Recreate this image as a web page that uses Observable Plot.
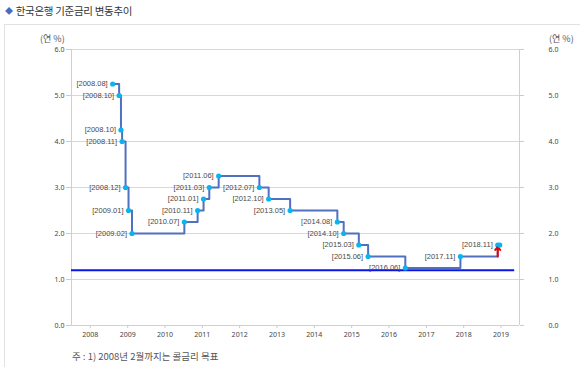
<!DOCTYPE html>
<html>
<head>
<meta charset="utf-8">
<script src="https://cdn.jsdelivr.net/npm/d3@7"></script>
<script src="https://cdn.jsdelivr.net/npm/@observablehq/plot@0.6"></script>
<style>
  body { margin: 0; width: 580px; height: 367px; overflow: hidden; background: #fff; font-family: "Noto Sans CJK KR", "Noto Sans", sans-serif; position: relative; }
  #title { position: absolute; left: 5px; top: 3px; font-size: 10.5px; color: #333; letter-spacing: -0.3px; }
  #title .dia { color: #4a6cc0; font-size: 8px; margin-right: 3px; position: relative; top: -1px; }
  #box { position: absolute; left: 4px; top: 24px; width: 600px; height: 400px; border: 1px solid #e2e2e2; box-sizing: border-box; }
  #chart { position: absolute; left: 0; top: 24px; }
  #caption { position: absolute; left: 72px; top: 349px; font-size: 9.5px; color: #555; }
  .unit { position: absolute; top: 32px; font-size: 9px; color: #555; }
</style>
</head>
<body>
<div id="title"><span class="dia">◆</span>한국은행 기준금리 변동추이</div>
<div id="box"></div>
<div id="chart"></div>
<div class="unit" style="left:40px">(연 %)</div>
<div class="unit" style="left:549px">(연 %)</div>
<div id="caption">주 : 1) 2008년 2월까지는 콜금리 목표</div>
<script>
const dates = ["2008-08-07","2008-10-09","2008-10-27","2008-11-07","2008-12-11","2009-01-09","2009-02-12",
  "2010-07-09","2010-11-16","2011-01-13","2011-03-10","2011-06-10","2012-07-12","2012-10-11","2013-05-09",
  "2014-08-14","2014-10-15","2015-03-12","2015-06-11","2016-06-09","2017-11-30","2018-11-30"];
const rates = [5.25,5.00,4.25,4.00,3.00,2.50,2.00,2.25,2.50,2.75,3.00,3.25,3.00,2.75,2.50,2.25,2.00,1.75,1.50,1.25,1.50,1.75];
const labels = ["[2008.08]","[2008.10]","[2008.10]","[2008.11]","[2008.12]","[2009.01]","[2009.02]",
  "[2010.07]","[2010.11]","[2011.01]","[2011.03]","[2011.06]","[2012.07]","[2012.10]","[2013.05]",
  "[2014.08]","[2014.10]","[2015.03]","[2015.06]","[2016.06]","[2017.11]","[2018.11]"];
const yTicks = [0,1,2,3,4,5,6];
const yearTicks = ["2008","2009","2010","2011","2012","2013","2014","2015","2016","2017","2018","2019"];
const refLine = [1.2];

const data = dates.map((d, i) => ({date: new Date(d), rate: rates[i], label: labels[i]}));
const xDomain = [new Date("2007-07-01"), new Date("2019-07-01")];
const last = data[data.length - 1], prev = data[data.length - 2];

const chart = Plot.plot({
  width: 580,
  height: 343,
  marginLeft: 71,
  marginRight: 61,
  marginTop: 25,
  marginBottom: 42,
  style: {fontFamily: "'Noto Sans', 'DejaVu Sans', sans-serif", fontSize: "7px", color: "#444", background: "transparent"},
  x: {type: "utc", domain: xDomain},
  y: {domain: [0, 6]},
  marks: [
    Plot.ruleY(yTicks, {stroke: "#d8d8d8", strokeWidth: 1}),
    Plot.ruleX([xDomain[0], xDomain[1]], {stroke: "#d0d0d0"}),
    Plot.ruleY([0], {stroke: "#d0d0d0"}),
    Plot.axisY({anchor: "left", ticks: yTicks, tickFormat: d3.format(".1f"), tickSize: 5, tickPadding: 2, stroke: "#ccc", label: null, fontSize: 7}),
    Plot.axisY({anchor: "right", ticks: yTicks, tickFormat: d3.format(".1f"), tickSize: 4, tickPadding: 25, textAnchor: "start", stroke: "#ccc", label: null, fontSize: 7}),
    Plot.axisX({ticks: yearTicks.map(y => new Date(y + "-01-01")), tickFormat: d3.utcFormat("%Y"), tickSize: 3, tickPadding: 4, stroke: "#ccc", label: null, fontSize: 7}),
    Plot.ruleY(refLine, {x1: xDomain[0], x2: new Date("2019-05-15"), stroke: "#0a14e6", strokeWidth: 2}),
    Plot.line(data, {x: "date", y: "rate", curve: "step-after", stroke: "#5270c0", strokeWidth: 2}),
    Plot.dot(data, {x: "date", y: "rate", r: 2.6, fill: "#0ab4ee", stroke: "none"}),
    Plot.arrow([{x: last.date, y1: prev.rate, y2: last.rate}], {x1: "x", x2: "x", y1: "y1", y2: "y2", stroke: "#f00000", strokeWidth: 2, headLength: 8, headAngle: 80, insetEnd: 2}),
    Plot.dot([last], {x: "date", y: "rate", r: 2.6, dx: 2, fill: "#0ab4ee", stroke: "none"}),
    Plot.text(data, {x: "date", y: "rate", text: "label", textAnchor: "end", dx: -5, fill: "#4a4a4a", fontSize: 7.5, fontFamily: "'Liberation Sans', Arial, sans-serif"})
  ]
});
document.getElementById("chart").appendChild(chart);
</script>
</body>
</html>
